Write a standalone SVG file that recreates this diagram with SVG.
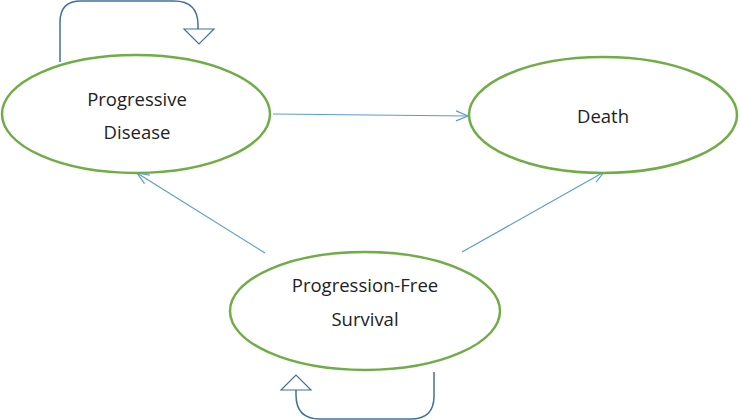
<svg xmlns="http://www.w3.org/2000/svg" width="740" height="420" viewBox="0 0 740 420">
<defs>
<marker id="open" viewBox="0 0 14 12" refX="13" refY="6" markerWidth="14" markerHeight="12" markerUnits="userSpaceOnUse" orient="auto">
<path d="M1,1 L13,6 L1,11" fill="none" stroke="#5b9bd5" stroke-width="1.2"/>
</marker>
</defs>
<style>
.node ellipse{fill:#fff;stroke:#70ad47;stroke-width:2.5}
.node text{font-family:"Open Sans","Liberation Sans",sans-serif;font-size:18.5px;fill:#222;text-anchor:middle}
.edge{fill:none;stroke:#5b9bd5;stroke-width:1.2}
.loop{fill:none;stroke:#41719c;stroke-width:1.5}
.tri{fill:#fff;stroke:#41719c;stroke-width:1.2}
</style>
<rect width="740" height="420" fill="#fff"/>
<g id="connectors">
<line class="edge" x1="273" y1="114" x2="468" y2="116" marker-end="url(#open)"/>
<line class="edge" x1="265" y1="253" x2="137" y2="173" marker-end="url(#open)"/>
<line class="edge" x1="462" y1="252" x2="604" y2="172" marker-end="url(#open)"/>
<path class="loop" d="M60,62 V22 Q60,1 81,1 H174 Q198,1 198,25 V29"/>
<polygon class="tri" points="184,29 214,29 199,44"/>
<path class="loop" d="M434,372 V396 Q434,419 411,419 H320 Q296,419 296,395 V390"/>
<polygon class="tri" points="281,390 311,390 296,375"/>
</g>
<g id="progressive-disease" class="node">
<ellipse cx="136" cy="114" rx="134" ry="59"/>
<text x="137" y="106">Progressive</text>
<text x="137" y="139">Disease</text>
</g>
<g id="death" class="node">
<ellipse cx="603" cy="115" rx="134" ry="58"/>
<text x="603" y="123">Death</text>
</g>
<g id="progression-free-survival" class="node">
<ellipse cx="365" cy="311" rx="135" ry="59"/>
<text x="365" y="292">Progression-Free</text>
<text x="365" y="326">Survival</text>
</g>
</svg>
